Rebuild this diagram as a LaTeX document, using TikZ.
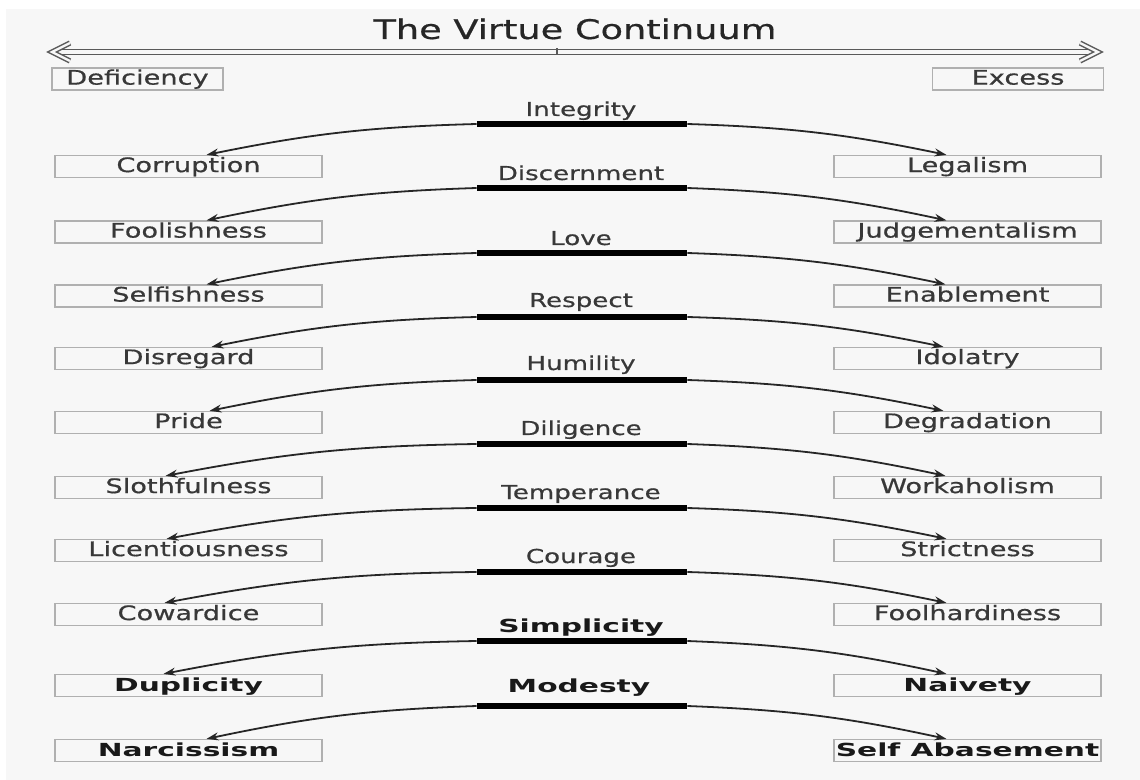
\documentclass[tikz,border=0pt]{standalone}
\usepackage{fontspec}
\newfontfamily\vfont[FakeStretch=1.36, FakeBold=0.6]{DejaVu Sans}
\newfontfamily\wfont[FakeStretch=1.65]{DejaVu Sans}
\usetikzlibrary{positioning, arrows.meta}
\definecolor{paper}{HTML}{F7F7F7}
\definecolor{frame}{HTML}{B0B0B0}
\definecolor{ink}{HTML}{383838}

\begin{document}
\begin{tikzpicture}[x=0.5pt, y=-0.5pt,
		side/.style={draw=frame, line width=0.6pt, rectangle, inner sep=0pt, minimum width=133.5pt, minimum height=11pt, text height=7.5pt, text depth=1.9pt, text=ink, font=\vfont\fontsize{10}{12}\selectfont},
		wideside/.style={side, text=black!90, font=\wfont\bfseries\fontsize{9}{11}\selectfont},
		pole/.style={side, minimum width=85.5pt},
		title/.style={anchor=base, text=black!85, font=\vfont\fontsize{13.5}{15}\selectfont},
		virtue/.style={anchor=base, text=ink, font=\vfont\fontsize{9.6}{11}\selectfont},
		widevirtue/.style={virtue, text=black!90, font=\wfont\bfseries\fontsize{9}{11}\selectfont},
		bar/.style={fill=black, rectangle, inner sep=0pt, minimum width=105pt, minimum height=2.6pt},
		link/.style={draw=black!85, line width=0.9pt, -{Stealth[length=6pt, width=4pt]}},
		scaleline/.style={draw=black!65, double=paper, double distance=1.8pt, line width=0.7pt},
		chevron/.style={scaleline, double distance=1.2pt, line join=miter}
		]
		\useasboundingbox (0,0) rectangle (1140,780);
		\fill[white] (0,0) rectangle (1140,780);
		\fill[paper] (6,9) rectangle (1140,780);

		% heading and the continuum
		\node[title] (T) at (575,39) {The Virtue Continuum};
		\coordinate (mid) at (557,52);
		\coordinate (lo) at (52,52);
		\coordinate (hi) at (1098,52);
		\draw[scaleline, shorten >=2pt] (mid) -- (lo);
		\draw[scaleline, shorten >=2pt] (mid) -- (hi);
		\draw[chevron] ([xshift=9pt, yshift=4.5pt]lo) -- (lo) -- ([xshift=9pt, yshift=-4.5pt]lo);
		\draw[chevron] ([xshift=-9pt, yshift=4.5pt]hi) -- (hi) -- ([xshift=-9pt, yshift=-4.5pt]hi);
		\draw[black!65, line width=0.6pt] ([yshift=1.8pt]mid) -- ([yshift=-1.2pt]mid);
		\node[pole] (D) at (137.5,79) {Deficiency};
		\node[pole] (E) at (1018,79) {Excess};

		% virtues
		\node[bar] (V1) at (582,124) {};
		\node[virtue] (N1) at (581,116) {Integrity};
		\node[side] (L1) at (188.5,166.5) {Corruption};
		\node[side] (R1) at (967.5,166.5) {Legalism};
		\draw[link] (V1.west) to[bend right=5] ([xshift=9pt]L1.north);
		\draw[link] (V1.east) to[bend left=5] ([xshift=-10.5pt]R1.north);

		\node[bar] (V2) at (582,188) {};
		\node[virtue] (N2) at (581,180) {Discernment};
		\node[side] (L2) at (188.5,232) {Foolishness};
		\node[side] (R2) at (967.5,232) {Judgementalism};
		\draw[link] (V2.west) to[bend right=5] ([xshift=9pt]L2.north);
		\draw[link] (V2.east) to[bend left=5] ([xshift=-10.5pt]R2.north);

		\node[bar] (V3) at (582,253) {};
		\node[virtue] (N3) at (581,245) {Love};
		\node[side] (L3) at (188.5,296) {Selfishness};
		\node[side] (R3) at (967.5,296) {Enablement};
		\draw[link] (V3.west) to[bend right=5] ([xshift=9pt]L3.north);
		\draw[link] (V3.east) to[bend left=5] ([xshift=-11pt]R3.north);

		\node[bar] (V4) at (582,317) {};
		\node[virtue] (N4) at (581,307) {Respect};
		\node[side] (L4) at (188.5,358.5) {Disregard};
		\node[side] (R4) at (967.5,358.5) {Idolatry};
		\draw[link] (V4.west) to[bend right=5] ([xshift=11.5pt]L4.north);
		\draw[link] (V4.east) to[bend left=5] ([xshift=-12pt]R4.north);

		\node[bar] (V5) at (582,380) {};
		\node[virtue] (N5) at (581,370) {Humility};
		\node[side] (L5) at (188.5,422.5) {Pride};
		\node[side] (R5) at (967.5,422.5) {Degradation};
		\draw[link] (V5.west) to[bend right=5] ([xshift=10.5pt]L5.north);
		\draw[link] (V5.east) to[bend left=5] ([xshift=-12pt]R5.north);

		\node[bar] (V6) at (582,444) {};
		\node[virtue] (N6) at (581,435) {Diligence};
		\node[side] (L6) at (188.5,487.5) {Slothfulness};
		\node[side] (R6) at (967.5,487.5) {Workaholism};
		\draw[link] (V6.west) to[bend right=5] ([xshift=-11.5pt]L6.north);
		\draw[link] (V6.east) to[bend left=5] ([xshift=-11pt]R6.north);

		\node[bar] (V7) at (582,508) {};
		\node[virtue] (N7) at (581,499) {Temperance};
		\node[side] (L7) at (188.5,550.5) {Licentiousness};
		\node[side] (R7) at (967.5,550.5) {Strictness};
		\draw[link] (V7.west) to[bend right=5] ([xshift=-11pt]L7.north);
		\draw[link] (V7.east) to[bend left=5] ([xshift=-10.5pt]R7.north);

		\node[bar] (V8) at (582,572) {};
		\node[virtue] (N8) at (581,563) {Courage};
		\node[side] (L8) at (188.5,614.5) {Cowardice};
		\node[side] (R8) at (967.5,614.5) {Foolhardiness};
		\draw[link] (V8.west) to[bend right=5] ([xshift=-12pt]L8.north);
		\draw[link] (V8.east) to[bend left=5] ([xshift=-10.5pt]R8.north);

		\node[bar] (V9) at (582,641) {};
		\node[widevirtue] (N9) at (581,632) {Simplicity};
		\node[wideside] (L9) at (188.5,685.5) {Duplicity};
		\node[wideside] (R9) at (967.5,685.5) {Naivety};
		\draw[link] (V9.west) to[bend right=5] ([xshift=-12.5pt]L9.north);
		\draw[link] (V9.east) to[bend left=5] ([xshift=-10.5pt]R9.north);

		\node[bar] (V10) at (582,706) {};
		\node[widevirtue] (N10) at (579,692) {Modesty};
		\node[wideside] (L10) at (188.5,750.5) {Narcissism};
		\node[wideside] (R10) at (967.5,750.5) {Self Abasement};
		\draw[link] (V10.west) to[bend right=5] ([xshift=9pt]L10.north);
		\draw[link] (V10.east) to[bend left=5] ([xshift=-10.5pt]R10.north);
	\end{tikzpicture}
\end{document}
